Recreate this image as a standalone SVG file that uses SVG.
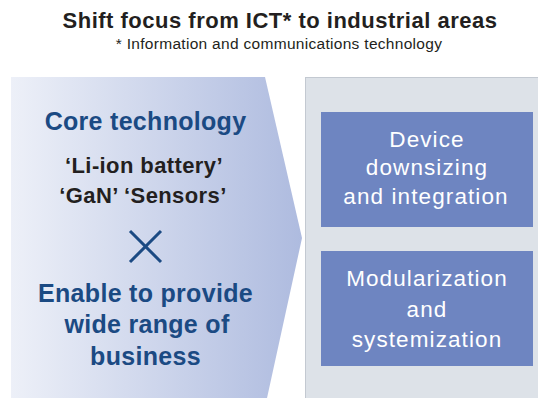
<svg xmlns="http://www.w3.org/2000/svg" width="538" height="398" viewBox="0 0 538 398">
  <defs>
    <linearGradient id="coreFill" x1="0" y1="0" x2="1" y2="0">
      <stop offset="0" stop-color="#edf0f8"/>
      <stop offset="1" stop-color="#aebbdf"/>
    </linearGradient>
    <style>
      .title { font-family: "Liberation Sans", Arial, sans-serif; font-weight: bold; fill: #231f20; text-anchor: middle; font-size: 22px; letter-spacing: 0.5px; }
      .note { font-family: "Liberation Sans", Arial, sans-serif; fill: #231f20; text-anchor: middle; font-size: 15.5px; letter-spacing: 0.3px; }
      .head { font-family: "Liberation Sans", Arial, sans-serif; font-weight: bold; fill: #1b4a83; text-anchor: middle; font-size: 25px; letter-spacing: 0.3px; }
      .item { font-family: "Liberation Sans", Arial, sans-serif; font-weight: bold; fill: #231f20; text-anchor: middle; font-size: 22px; letter-spacing: 0.4px; }
      .box { fill: #6e85c1; }
      .boxText { font-family: "Liberation Sans", Arial, sans-serif; fill: #ffffff; text-anchor: middle; font-size: 22.5px; letter-spacing: 1.1px; }
    </style>
  </defs>

  <rect width="538" height="398" fill="#ffffff"/>

  <!-- heading -->
  <g id="heading">
    <text class="title" x="280" y="28">Shift focus from ICT* to industrial areas</text>
    <text class="note" x="279" y="49">* Information and communications technology</text>
  </g>

  <!-- left chevron: core technology -->
  <g id="core">
    <polygon points="11,77 265,77 302,238 267,398 11,398" fill="url(#coreFill)"/>
    <text class="head" x="145.5" y="130" letter-spacing="0.9">Core technology</text>
    <text class="item" x="144" y="173">‘Li-ion battery’</text>
    <text class="item" x="143" y="203">‘GaN’ ‘Sensors’</text>
    <path d="M130,231 L161,262 M161,231 L130,262" stroke="#1b4a83" stroke-width="3" fill="none"/>
    <text class="head" x="145.5" y="302">Enable to provide</text>
    <text class="head" x="147" y="333">wide range of</text>
    <text class="head" x="145.5" y="365">business</text>
  </g>

  <!-- right panel: industrial areas -->
  <g id="areas">
    <rect x="305.5" y="77.5" width="240" height="330" fill="#dde2e8" stroke="#c3c9d1" stroke-width="1"/>
  </g>

  <g id="downsizing">
    <rect class="box" x="321" y="112" width="212" height="115"/>
    <text class="boxText" x="427" y="147">Device</text>
    <text class="boxText" x="427" y="175">downsizing</text>
    <text class="boxText" x="426" y="204">and integration</text>
  </g>

  <g id="modularization">
    <rect class="box" x="321" y="251" width="212" height="115"/>
    <text class="boxText" x="427" y="286">Modularization</text>
    <text class="boxText" x="427" y="317">and</text>
    <text class="boxText" x="427" y="347">systemization</text>
  </g>
</svg>
